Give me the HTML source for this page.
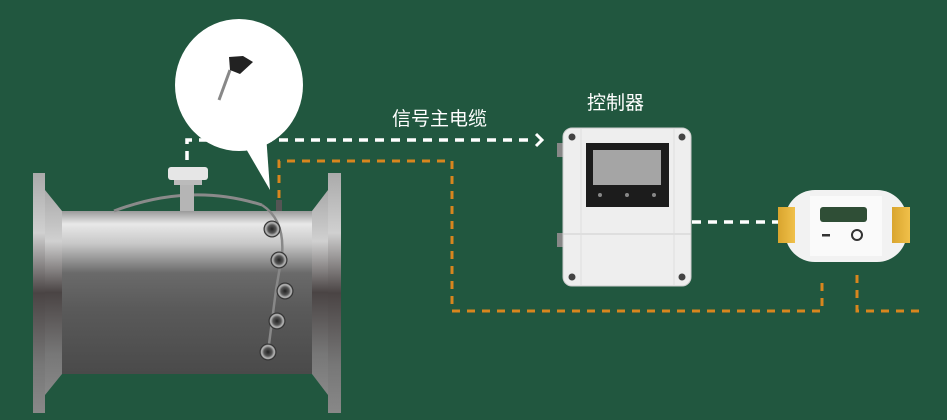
<!DOCTYPE html>
<html><head><meta charset="utf-8"><style>
html,body{margin:0;padding:0;background:#21573f;}
svg{display:block}
text{font-family:"Liberation Sans","Noto Sans CJK SC",sans-serif;fill:#fff}
</style></head><body>
<svg width="947" height="420" viewBox="0 0 947 420" xmlns="http://www.w3.org/2000/svg">
<defs>
<linearGradient id="body" x1="0" y1="0" x2="0" y2="1">
<stop offset="0" stop-color="#9a9a9a"/><stop offset="0.08" stop-color="#e8e8e8"/><stop offset="0.2" stop-color="#c8c8c8"/><stop offset="0.38" stop-color="#6a6a6a"/><stop offset="0.6" stop-color="#5a5a5a"/><stop offset="1" stop-color="#4a4a4a"/></linearGradient>
<linearGradient id="fl" x1="0" y1="0" x2="0" y2="1">
<stop offset="0" stop-color="#aaa"/><stop offset="0.25" stop-color="#d0d0d0"/><stop offset="0.5" stop-color="#4a4444"/><stop offset="0.8" stop-color="#777"/><stop offset="1" stop-color="#888"/></linearGradient>
<linearGradient id="yel" x1="0" y1="0" x2="1" y2="0"><stop offset="0" stop-color="#d9a52e"/><stop offset="1" stop-color="#f0c04a"/></linearGradient>
<radialGradient id="bolt"><stop offset="0" stop-color="#222"/><stop offset="0.5" stop-color="#555"/><stop offset="0.8" stop-color="#bbb"/><stop offset="1" stop-color="#444"/></radialGradient>
</defs>
<!-- cables -->
<g fill="none" stroke="#fff" stroke-width="3.5" stroke-dasharray="9,7">
<path d="M187 160 V140 H535"/>
<path d="M692 222 H780"/>
</g>
<path d="M536 134 L542 140 L536 146" fill="none" stroke="#fff" stroke-width="3"/>
<g fill="none" stroke="#d8861e" stroke-width="3" stroke-dasharray="8,7">
<path d="M279 198 V161 H452 V311 H822 V280"/>
<path d="M857 275 V311 H922"/>
</g>
<!-- flanges -->
<path d="M45 190 L62 211 V374 L45 395 Z" fill="url(#fl)"/>
<rect x="33" y="173" width="12" height="240" fill="url(#fl)"/>
<path d="M328 190 L312 211 V374 L328 395 Z" fill="url(#fl)"/>
<rect x="328" y="173" width="13" height="240" fill="url(#fl)"/>
<rect x="62" y="211" width="250" height="163" fill="url(#body)"/>
<!-- top fitting -->
<path d="M114 211 Q190 182 262 205" fill="none" stroke="#8a8a8a" stroke-width="3"/>
<rect x="180" y="178" width="14" height="33" fill="#b5b5b5"/>
<rect x="168" y="167" width="40" height="13" rx="3" fill="#e6e6e6"/>
<rect x="174" y="180" width="28" height="5" fill="#bbb"/>
<rect x="276" y="200" width="6" height="11" fill="#555"/>
<path d="M262 205 Q285 220 282 255 L276 290 L268 352" fill="none" stroke="#888" stroke-width="2.5"/>
<g fill="url(#bolt)" stroke="#333" stroke-width="1">
<circle cx="272" cy="229" r="8"/><circle cx="279" cy="260" r="8"/><circle cx="285" cy="291" r="8"/><circle cx="277" cy="321" r="8"/><circle cx="268" cy="352" r="8"/>
</g>
<!-- bubble -->
<ellipse cx="239" cy="85" rx="64" ry="66" fill="#fff"/>
<path d="M238 135 L270 190 L265 120 Z" fill="#fff"/>
<path d="M219 100 L230 70" stroke="#888" stroke-width="3"/>
<path d="M229 57 L243 56 L253 62 L240 74 L230 70 Z" fill="#222"/>
<text x="392" y="125" font-size="19">信号主电缆</text>
<text x="587" y="109" font-size="19">控制器</text>
<!-- controller -->
<rect x="557" y="143" width="8" height="14" fill="#888"/>
<rect x="557" y="233" width="8" height="14" fill="#888"/>
<rect x="563" y="128" width="128" height="158" rx="9" fill="#eeeeee" stroke="#ccc"/>
<line x1="563" y1="234" x2="691" y2="234" stroke="#cfcfcf"/>
<line x1="581" y1="128" x2="581" y2="286" stroke="#ddd"/>
<line x1="674" y1="128" x2="674" y2="286" stroke="#ddd"/>
<rect x="586" y="143" width="83" height="64" fill="#1c1c1c"/>
<rect x="593" y="150" width="68" height="35" fill="#a5a5a5"/>
<g fill="#888"><circle cx="600" cy="195" r="2"/><circle cx="627" cy="195" r="2"/><circle cx="654" cy="195" r="2"/></g>
<g fill="#444"><circle cx="572" cy="137" r="3.5"/><circle cx="682" cy="137" r="3.5"/><circle cx="572" cy="277" r="3.5"/><circle cx="682" cy="277" r="3.5"/></g>
<!-- meter -->
<rect x="785" y="190" width="122" height="72" rx="30" fill="#f2f2f2"/>
<rect x="810" y="196" width="72" height="60" fill="#fafafa"/>
<rect x="820" y="207" width="47" height="15" rx="3" fill="#2f4e36"/>
<rect x="822" y="234" width="8" height="2.5" fill="#333"/>
<circle cx="857" cy="235" r="5" fill="none" stroke="#333" stroke-width="2"/>
<rect x="778" y="207" width="17" height="36" fill="url(#yel)"/>
<rect x="892" y="207" width="18" height="36" fill="url(#yel)"/>
</svg>
</body></html>
